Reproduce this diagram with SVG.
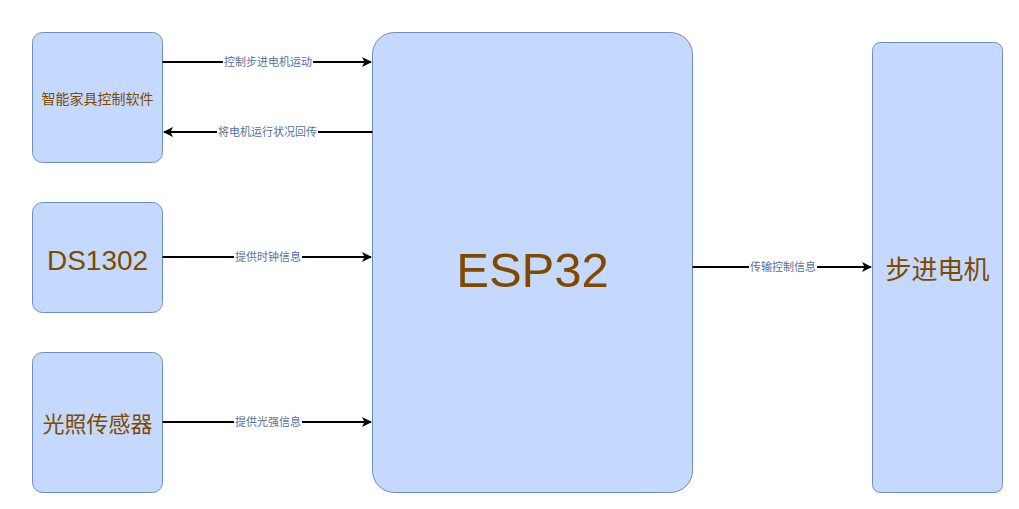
<svg xmlns="http://www.w3.org/2000/svg" width="1019" height="509" viewBox="0 0 1019 509">
<style>
.box{fill:#c4d9fd;stroke:#6c8ebf;stroke-width:1}
.nt{fill:#7f4a00;font-family:"Liberation Sans","Noto Sans CJK SC",sans-serif;text-anchor:middle;dominant-baseline:central}
.ln{stroke:#000;stroke-width:2;fill:none;marker-end:url(#arr)}
.lb{fill:#56709e;font-family:"Liberation Sans","Noto Sans CJK SC",sans-serif;font-size:11px;text-anchor:middle;dominant-baseline:central}
.lbg{fill:#fff}
</style>
<defs>
<marker id="arr" viewBox="0 0 10 10" refX="9" refY="5" markerWidth="5" markerHeight="5" markerUnits="strokeWidth" orient="auto">
<path d="M0,0 L10,5 L0,10 L2.5,5 Z" fill="#000"/>
</marker>
</defs>
<rect width="1019" height="509" fill="#fff"/>
<g id="software"><rect class="box" x="32.5" y="32.5" width="130" height="130" rx="10"/><text class="nt" x="97.5" y="99" font-size="14">智能家具控制软件</text></g>
<g id="ds1302"><rect class="box" x="32.5" y="202.5" width="130" height="110" rx="10"/><text class="nt" x="97.5" y="260" font-size="28">DS1302</text></g>
<g id="light"><rect class="box" x="32.5" y="352.5" width="130" height="140" rx="10"/><text class="nt" x="97.5" y="424" font-size="22">光照传感器</text></g>
<g id="esp32"><rect class="box" x="372.5" y="32.5" width="320" height="460" rx="22"/><text class="nt" x="532.5" y="270" font-size="49">ESP32</text></g>
<g id="motor"><rect class="box" x="872.5" y="42.5" width="130" height="450" rx="8"/><text class="nt" x="937.5" y="270" font-size="26">步进电机</text></g>
<g id="connectors">
<path class="ln" d="M162.5,62 H371"/>
<rect class="lbg" x="223" y="55" width="90" height="14"/><text class="lb" x="268" y="62">控制步进电机运动</text>
<path class="ln" d="M372.5,132 H164"/>
<rect class="lbg" x="217" y="125" width="101" height="14"/><text class="lb" x="267.5" y="132">将电机运行状况回传</text>
<path class="ln" d="M162.5,257 H371"/>
<rect class="lbg" x="234" y="250" width="68" height="14"/><text class="lb" x="268" y="257">提供时钟信息</text>
<path class="ln" d="M162.5,422 H371"/>
<rect class="lbg" x="234" y="415" width="68" height="14"/><text class="lb" x="268" y="422">提供光强信息</text>
<path class="ln" d="M692.5,267 H871"/>
<rect class="lbg" x="749" y="260" width="68" height="14"/><text class="lb" x="783" y="267">传输控制信息</text>
</g>
</svg>
